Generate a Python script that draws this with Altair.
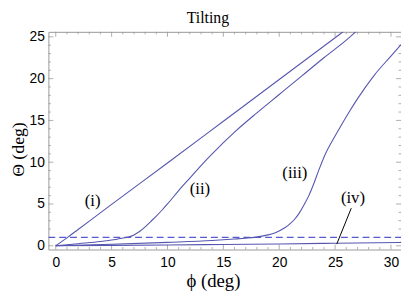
import altair as alt
import pandas as pd

# Curve data (phi in deg, Theta in deg)
phi_i = [0, 1, 2, 5, 10, 15, 20, 25.74]
theta_i = [0, 0.95, 1.95, 4.95, 9.9, 14.9, 19.9, 25.63]

phi_ii = [0, 2, 4, 5, 6, 6.5, 7, 7.5, 8, 8.5, 9, 9.5, 10, 11, 12, 13, 14, 16, 18, 20, 22, 24, 26, 26.86]
theta_ii = [0, 0.25, 0.5, 0.68, 0.92, 1.05, 1.3, 1.7, 2.25, 2.9, 3.55, 4.25, 5.0, 6.6, 8.1, 9.6, 11.0, 13.6, 15.9, 18.1, 20.3, 22.5, 24.6, 25.63]

phi_iii = [0, 5, 10, 14, 16, 17, 17.8, 19, 19.7, 20.5, 20.9, 21.4, 21.76, 22.2, 22.65, 23.1, 23.5, 24.1, 24.77, 25.5, 26.3, 27.06, 28.5, 30, 30.9]
theta_iii = [0, 0.18, 0.4, 0.62, 0.8, 0.9, 1.0, 1.3, 1.6, 2.15, 2.55, 3.2, 3.85, 4.85, 6.0, 7.45, 8.9, 10.9, 12.6, 14.3, 16.1, 17.7, 20.4, 22.7, 24.06]

phi_iv = [0, 5, 10, 15, 20, 25, 30.9]
theta_iv = [0, 0.05, 0.1, 0.16, 0.22, 0.3, 0.4]

threshold_phi = [-0.66, 30.9]
threshold_theta = [1.0, 1.0]

label_text = ["(i)", "(ii)", "(iii)", "(iv)"]
label_phi = [3.3, 12.9, 21.4, 26.6]
label_theta = [5.4, 6.75, 8.7, 5.7]

pointer_phi = [25.15, 26.45]
pointer_theta = [0.2, 4.5]

x_major = [0, 5, 10, 15, 20, 25, 30]
x_minor = [v for v in range(0, 31) if v % 5 != 0]
y_major = [0, 5, 10, 15, 20, 25]
y_minor = [v for v in range(0, 26) if v % 5 != 0]

XDOM = [-0.66, 30.9]
YDOM = [-0.45, 25.6]
W, H = 358, 221
COL = "#5656b0"

rows = []
for name, xs_, ys_ in [("i", phi_i, theta_i), ("ii", phi_ii, theta_ii),
                       ("iii", phi_iii, theta_iii), ("iv", phi_iv, theta_iv)]:
    for k, (a, b) in enumerate(zip(xs_, ys_)):
        rows.append({"curve": name, "phi": a, "theta": b, "order": k})
curves = pd.DataFrame(rows)

xs = alt.Scale(domain=XDOM, nice=False, zero=False)
ys = alt.Scale(domain=YDOM, nice=False, zero=False)

xax = alt.Axis(values=x_major, ticks=False, domain=False, grid=False,
               labelFont="Liberation Sans", labelFontSize=14, labelColor="black",
               labelPadding=6, title="ϕ (deg)", titleFont="Liberation Serif",
               titleFontSize=19, titleFontWeight="normal", titleColor="black",
               titlePadding=3, titleX=167)
yax = alt.Axis(values=y_major, ticks=False, domain=False, grid=False,
               labelFont="Liberation Sans", labelFontSize=14, labelColor="black",
               labelPadding=4, title="Θ (deg)", titleFont="Liberation Serif",
               titleFontSize=18, titleFontWeight="normal", titleColor="black",
               titlePadding=2, titleY=119)

lines = alt.Chart(curves).mark_line(color=COL, stroke=COL, strokeWidth=1.1, clip=True,
                                    interpolate="monotone").encode(
    x=alt.X("phi:Q", scale=xs, axis=xax),
    y=alt.Y("theta:Q", scale=ys, axis=yax),
    detail="curve:N",
    order="order:Q",
)

dashed = alt.Chart(pd.DataFrame({"phi": threshold_phi, "theta": threshold_theta})).mark_line(
    color="#5a5ad0", strokeWidth=1.1, strokeDash=[7, 4], clip=True).encode(
    x=alt.X("phi:Q", scale=xs), y=alt.Y("theta:Q", scale=ys))

pointer = alt.Chart(pd.DataFrame({"phi": pointer_phi, "theta": pointer_theta})).mark_line(
    color="black", strokeWidth=1).encode(
    x=alt.X("phi:Q", scale=xs), y=alt.Y("theta:Q", scale=ys))

labels = alt.Chart(pd.DataFrame({"t": label_text, "phi": label_phi, "theta": label_theta})).mark_text(
    font="Liberation Serif", fontSize=17, color="black").encode(
    x=alt.X("phi:Q", scale=xs), y=alt.Y("theta:Q", scale=ys), text="t:N")

def xticks(vals, ln):
    d = pd.DataFrame({"v": vals})
    b = alt.Chart(d).mark_rule(color="#999999", strokeWidth=0.8).encode(
        x=alt.X("v:Q", scale=xs), y=alt.value(H), y2=alt.value(H - ln))
    t = alt.Chart(d).mark_rule(color="#999999", strokeWidth=0.8).encode(
        x=alt.X("v:Q", scale=xs), y=alt.value(0), y2=alt.value(ln))
    return [b, t]

def yticks(vals, ln):
    d = pd.DataFrame({"v": vals})
    l = alt.Chart(d).mark_rule(color="#999999", strokeWidth=0.8).encode(
        y=alt.Y("v:Q", scale=ys), x=alt.value(0), x2=alt.value(ln))
    r = alt.Chart(d).mark_rule(color="#999999", strokeWidth=0.8).encode(
        y=alt.Y("v:Q", scale=ys), x=alt.value(W), x2=alt.value(W - ln))
    return [l, r]

ticklayers = xticks(x_major, 5) + xticks(x_minor, 2.5) + yticks(y_major, 5) + yticks(y_minor, 2.5)

chart = alt.layer(*ticklayers, dashed, lines, pointer, labels).properties(
    width=W, height=H,
    title=alt.TitleParams("Tilting", font="Liberation Serif", fontSize=16,
                          fontWeight="normal", color="black", dx=-17, offset=4),
    autosize=alt.AutoSizeParams(type="none"),
    padding={"left": 41, "top": 22, "right": 0, "bottom": 46},
).configure_view(stroke="#999999", strokeWidth=1)

chart.save("out.html", embed_options={"renderer": "svg", "actions": False})
